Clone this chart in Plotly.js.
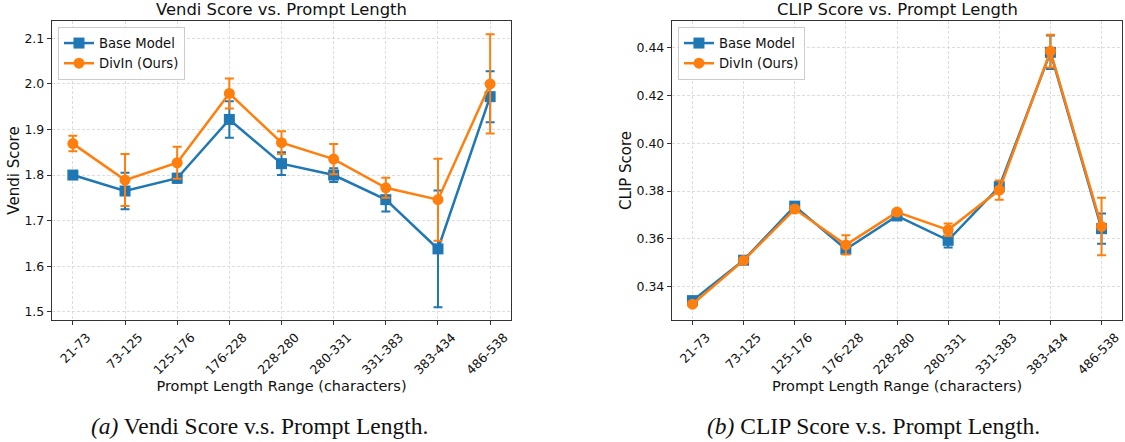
<!DOCTYPE html>
<html>
<head>
<meta charset="utf-8">
<script src="https://cdn.plot.ly/plotly-3.0.1.min.js"></script>
<style>html,body{margin:0;padding:0;background:#fff;}#chart{width:1125px;height:442px;}</style>
</head>
<body>
<div id="chart"></div>
<script>
// Data
const categories = ["21-73","73-125","125-176","176-228","228-280","280-331","331-383","383-434","486-538"];

const vendiBase    = [1.800, 1.765, 1.793, 1.922, 1.825, 1.800, 1.746, 1.638, 1.972];
const vendiBaseErr = [0.005, 0.040, 0.010, 0.040, 0.025, 0.015, 0.026, 0.128, 0.056];
const vendiDivIn    = [1.869, 1.789, 1.827, 1.979, 1.871, 1.835, 1.772, 1.746, 2.000];
const vendiDivInErr = [0.017, 0.057, 0.035, 0.033, 0.025, 0.033, 0.022, 0.090, 0.109];

const clipBase    = [0.3342, 0.3511, 0.3737, 0.3557, 0.3696, 0.3594, 0.3818, 0.4380, 0.3643];
const clipBaseErr = [0.0010, 0.0010, 0.0010, 0.0015, 0.0012, 0.0030, 0.0022, 0.0070, 0.0063];
const clipDivIn    = [0.3327, 0.3510, 0.3725, 0.3575, 0.3712, 0.3638, 0.3804, 0.4385, 0.3652];
const clipDivInErr = [0.0008, 0.0010, 0.0010, 0.0040, 0.0010, 0.0026, 0.0040, 0.0068, 0.0120];

const seriesNames = ["Base Model", "DivIn (Ours)"];
const titles = ["Vendi Score vs. Prompt Length", "CLIP Score vs. Prompt Length"];
const yTitles = ["Vendi Score", "CLIP Score"];
const xTitle = "Prompt Length Range (characters)";
const captions = ["<i>(a)</i> Vendi Score v.s. Prompt Length.", "<i>(b)</i> CLIP Score v.s. Prompt Length."];

const BLUE = "#1f77b4", ORANGE = "#ff7f0e";
const FONT = "DejaVu Sans, sans-serif";

function tr(y, err, name, color, symbol, xa, ya, legend, show) {
  return {
    type: "scatter", mode: "lines+markers", x: categories, y: y, name: name,
    xaxis: xa, yaxis: ya, legend: legend, showlegend: show,
    line: {color: color, width: 2.5},
    marker: {color: color, size: 11, symbol: symbol},
    error_y: {type: "data", array: err, visible: true, color: color, thickness: 2, width: 4.5}
  };
}

const data = [
  tr(vendiBase, vendiBaseErr, seriesNames[0], BLUE, "square", "x", "y", "legend", true),
  tr(vendiDivIn, vendiDivInErr, seriesNames[1], ORANGE, "circle", "x", "y", "legend", true),
  tr(clipBase, clipBaseErr, seriesNames[0], BLUE, "square", "x2", "y2", "legend2", true),
  tr(clipDivIn, clipDivInErr, seriesNames[1], ORANGE, "circle", "x2", "y2", "legend2", true)
];

function xaxis(domain, anchor) {
  return {
    domain: domain, anchor: anchor, type: "category", range: [-0.4, 8.4],
    showline: true, mirror: true, linecolor: "#333", linewidth: 1.2,
    ticks: "outside", ticklen: 4, tickcolor: "#333", tickwidth: 1,
    tickangle: -45, ticklabelshift: 14,
    tickfont: {family: FONT, size: 12.5, color: "#111"},
    showgrid: true, gridcolor: "#d4d4d4", gridwidth: 0.8, griddash: "3px,2px",
    zeroline: false, automargin: false,
    title: {text: xTitle, font: {family: FONT, size: 14.5, color: "#111"}, standoff: 4}
  };
}
function yaxis(range, dtick, fmt, anchor, title) {
  return {
    domain: [0, 1], anchor: anchor, range: range, dtick: dtick, tickformat: fmt,
    showline: true, mirror: true, linecolor: "#333", linewidth: 1.2,
    ticks: "outside", ticklen: 4, tickcolor: "#333", tickwidth: 1,
    tickfont: {family: FONT, size: 12.5, color: "#111"},
    showgrid: true, gridcolor: "#d4d4d4", gridwidth: 0.8, griddash: "3px,2px",
    zeroline: false, automargin: false,
    title: {text: title, font: {family: FONT, size: 15, color: "#111"}, standoff: 1}
  };
}

const legendCommon = {
  xanchor: "left", yanchor: "top", bgcolor: "rgba(255,255,255,0.9)",
  bordercolor: "#cccccc", borderwidth: 1,
  font: {family: FONT, size: 13.2, color: "#111"}, itemwidth: 30, tracegroupgap: 0
};

const layout = {
  width: 1125, height: 442,
  margin: {l: 52, r: 3, t: 21, b: 121.5},
  paper_bgcolor: "#fff", plot_bgcolor: "#fff",
  font: {family: FONT, color: "#111"},
  xaxis: xaxis([0, 0.42897], "y"),
  yaxis: yaxis([1.482, 2.138], 0.1, ".1f", "x", yTitles[0]),
  xaxis2: xaxis([0.57944, 1], "y2"),
  yaxis2: yaxis([0.3261, 0.4511], 0.02, ".2f", "x2", yTitles[1]),
  legend: Object.assign({x: 0.0056, y: 0.98}, legendCommon),
  legend2: Object.assign({x: 0.585, y: 0.98}, legendCommon),
  annotations: [
    {text: titles[0], xref: "paper", yref: "paper", x: 0.21449, y: 1, xanchor: "center", yanchor: "bottom",
     showarrow: false, font: {family: FONT, size: 16.4, color: "#111"}, yshift: 0},
    {text: titles[1], xref: "paper", yref: "paper", x: 0.78972, y: 1, xanchor: "center", yanchor: "bottom",
     showarrow: false, font: {family: FONT, size: 16.4, color: "#111"}, yshift: 0},
    {text: captions[0], xref: "paper", yref: "paper", x: 0.1935, y: -0.3556, xanchor: "center", yanchor: "middle",
     showarrow: false, font: {family: "Liberation Serif, Times New Roman, serif", size: 23.5, color: "#111"}},
    {text: captions[1], xref: "paper", yref: "paper", x: 0.7673, y: -0.3556, xanchor: "center", yanchor: "middle",
     showarrow: false, font: {family: "Liberation Serif, Times New Roman, serif", size: 23.5, color: "#111"}}
  ],
  showlegend: true
};

Plotly.newPlot("chart", data, layout, {staticPlot: true, displayModeBar: false});
</script>
</body>
</html>
